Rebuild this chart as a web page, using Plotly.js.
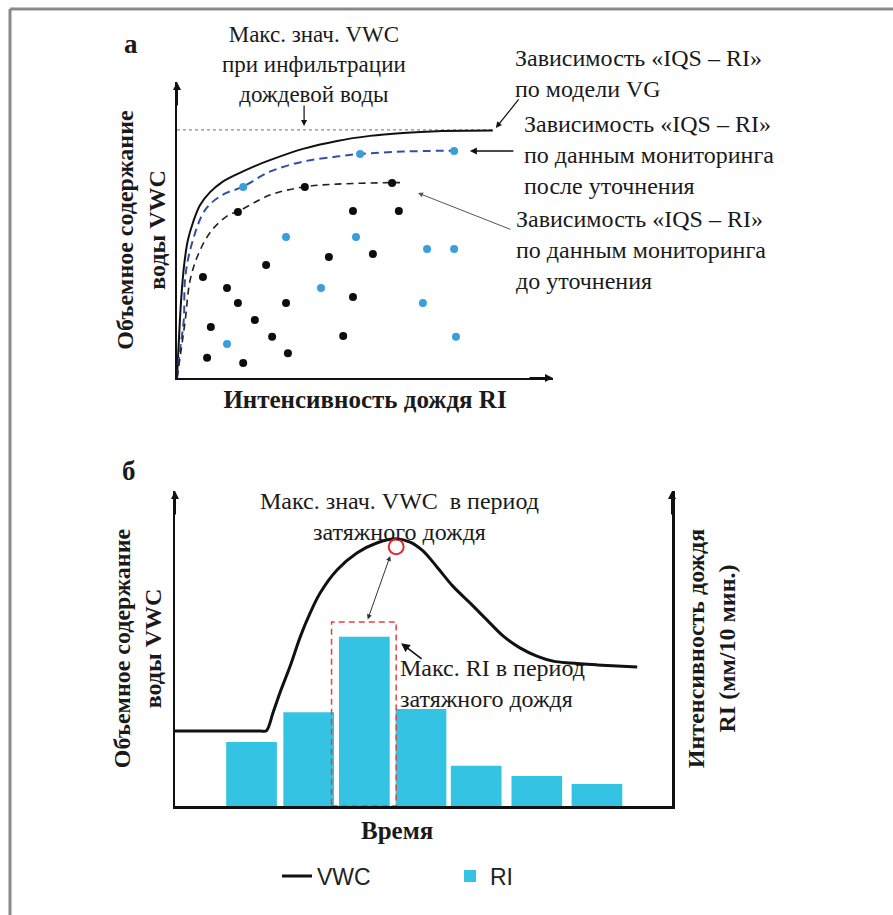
<!DOCTYPE html>
<html><head><meta charset="utf-8">
<script src="https://cdn.plot.ly/plotly-3.0.1.min.js"></script>
<style>html,body{margin:0;padding:0;background:#fff}#chart{width:893px;height:915px}</style>
</head><body><div id="chart"></div>
<script>
// ---------- Panel а : VWC vs rain intensity (schematic units 0..100) ----------
const vgRI   = [0, 0.5, 1.1, 1.9, 2.9, 4.3, 6.1, 8.8, 12.0, 16.0, 20.7, 24.7, 33.5, 42.6, 51.3, 60.1, 69.2, 84.0];
const vgVWC  = [0, 12.8, 26.4, 38.2, 46.6, 52.7, 58.4, 62.8, 66.2, 68.9, 71.6, 73.6, 77.4, 80.1, 81.8, 82.8, 83.4, 83.6];
const afterRI  = [0, 0.8, 1.8, 2.2, 4.0, 7.5, 12.0, 17.5, 24.7, 33.5, 42.5, 48.7, 60.1, 73.7];
const afterVWC = [0, 9.5, 19.6, 34.1, 45.6, 56.8, 61.8, 64.6, 69.7, 73.1, 74.8, 75.7, 76.5, 76.8];
const beforeRI  = [0, 1.1, 2.2, 3.5, 5.8, 9.3, 13.8, 16.4, 24.7, 34.0, 42.5, 57.1, 59.3];
const beforeVWC = [0, 9.5, 19.6, 33.1, 42.2, 50.0, 55.1, 56.4, 61.8, 64.6, 65.5, 66.0, 66.0];
const maxInfilRI  = [0, 84];
const maxInfilVWC = [83.8, 83.8];
const blackRI  = [34.0, 57.2, 16.2, 46.8, 59.0, 40.4, 52.1, 23.7, 6.9, 13.3, 16.2, 29.0, 46.8, 20.7, 9.0, 25.3, 44.2, 8.0, 17.6, 29.5];
const blackVWC = [64.5, 65.9, 56.1, 56.4, 56.4, 40.9, 41.9, 38.2, 34.1, 30.4, 25.3, 25.3, 27.4, 19.6, 17.2, 13.9, 14.2, 6.8, 5.1, 8.4];
const blueRI   = [48.7, 73.7, 17.6, 29.0, 47.6, 66.5, 73.7, 38.3, 65.4, 74.2, 13.3];
const blueVWC  = [75.7, 76.7, 64.5, 47.6, 47.6, 43.6, 43.6, 30.4, 25.3, 13.9, 11.5];

// ---------- Panel б : VWC and RI over time (schematic units 0..100) ----------
const timeVWC = [0, 9.0, 17.2, 18.4, 19.7, 21.1, 23.1, 25.2, 27.2, 29.2, 32.6, 36.6, 40.6, 44.7, 47.3, 49.9, 52.7, 55.9, 59.4, 62.8, 66.0, 69.4, 72.8, 76.1, 79.5, 84.9, 93.0];
const vwcVals = [23.8, 23.8, 23.8, 23.9, 29.5, 35.9, 44.1, 53.7, 61.3, 67.6, 74.9, 80.3, 83.5, 84.8, 83.8, 81.0, 75.9, 69.8, 64.4, 59.0, 54.0, 50.2, 47.6, 46.0, 45.4, 44.8, 44.1];
const timeRI  = [15.4, 26.9, 38.1, 49.5, 60.6, 72.8, 84.9];
const riVals  = [20.3, 29.8, 53.7, 30.8, 12.8, 9.5, 7.0];

// ---------- helpers ----------
const W = 893, H = 915;
const PX = p => p / W;
const PY = p => 1 - p / H;
const SERIF = 'Liberation Serif, Times New Roman, serif';
const TXT = '#1a1a1a';

const iMaxVWC = vwcVals.indexOf(Math.max(...vwcVals));
const iMaxRI  = riVals.indexOf(Math.max(...riVals));

const traces = [
  {x: maxInfilRI, y: maxInfilVWC, xaxis: 'x', yaxis: 'y', mode: 'lines', showlegend: false, hoverinfo: 'skip',
   line: {color: '#8a8a8a', width: 1.2, dash: '3px,3px'}},
  {x: vgRI, y: vgVWC, xaxis: 'x', yaxis: 'y', mode: 'lines', showlegend: false,
   line: {color: '#111', width: 2, shape: 'spline', smoothing: 1}},
  {x: afterRI, y: afterVWC, xaxis: 'x', yaxis: 'y', mode: 'lines', showlegend: false,
   line: {color: '#2f50a6', width: 2, dash: '8px,5px', shape: 'spline', smoothing: 1}},
  {x: beforeRI, y: beforeVWC, xaxis: 'x', yaxis: 'y', mode: 'lines', showlegend: false,
   line: {color: '#222', width: 1.6, dash: '7px,5px', shape: 'spline', smoothing: 1}},
  {x: blackRI, y: blackVWC, xaxis: 'x', yaxis: 'y', mode: 'markers', showlegend: false,
   marker: {color: '#0d0d0d', size: 8}},
  {x: blueRI, y: blueVWC, xaxis: 'x', yaxis: 'y', mode: 'markers', showlegend: false,
   marker: {color: '#3a9edb', size: 8}},
  // panel б
  {x: timeVWC, y: vwcVals, xaxis: 'x2', yaxis: 'y2', mode: 'lines', name: 'VWC',
   line: {color: '#111', width: 3, shape: 'spline', smoothing: 0.9}},
  {x: timeRI, y: riVals, xaxis: 'x2', yaxis: 'y3', type: 'bar', name: 'RI', width: 10.2,
   marker: {color: '#34c3e2', line: {width: 0}}},
  {x: [timeVWC[iMaxVWC] - 0.2], y: [vwcVals[iMaxVWC] - 2.5], xaxis: 'x2', yaxis: 'y2', mode: 'markers', showlegend: false,
   marker: {symbol: 'circle-open', size: 15, color: '#e8262b', line: {width: 2, color: '#e8262b'}}}
];

const axBase = {showgrid: false, zeroline: false, showticklabels: false, ticks: '', showline: true,
  linecolor: '#111', linewidth: 2, fixedrange: true};
const titleFont = {family: SERIF, size: 24, color: TXT, weight: 'bold'};

const annotations = [];
function T(text, x, y, anchor, size, bold) {
  annotations.push({text, x: PX(x), y: PY(y), xref: 'paper', yref: 'paper', showarrow: false,
    xanchor: anchor || 'left', yanchor: 'middle', align: anchor === 'center' ? 'center' : 'left',
    font: {family: SERIF, size: size || 24, color: TXT, weight: bold ? 'bold' : 'normal'}});
}
function A(x, y, xr, yr, ax, ay, opts) {
  annotations.push(Object.assign({text: '', x, y, xref: xr, yref: yr, ax, ay, showarrow: true,
    arrowhead: 2, arrowsize: 1, arrowwidth: 1.2, arrowcolor: '#111'}, opts || {}));
}

// panel labels
T('а', 131, 44, 'center', 27, true);
T('б', 129, 471, 'center', 27, true);
// panel а texts
T('Макс. знач. VWC<br>при инфильтрации<br>дождевой воды', 314, 65, 'center', 23);
T('Зависимость «IQS – RI»<br>по модели VG', 513, 73, 'left');
T('Зависимость «IQS – RI»<br>по данным мониторинга<br>после уточнения', 522, 155, 'left');
T('Зависимость «IQS – RI»<br>по данным мониторинга<br>до уточнения', 514, 250, 'left');
// panel б texts
T('Макс. знач. VWC  в период<br>затяжного дождя', 399, 516, 'center');
T('Макс. RI в период<br>затяжного дождя', 398, 683, 'left');
T('Время', 397, 830, 'center', 25, true);

// axis arrowheads
A(0, 100, 'x', 'y', 0, 25, {arrowwidth: 2, arrowsize: 0.8});
A(100, 0, 'x', 'y', -25, 0, {arrowwidth: 2, arrowsize: 0.8});
A(0, 100, 'x2', 'y2', 0, 25, {arrowwidth: 2, arrowsize: 0.8});
A(100, 100, 'x2', 'y3', 0, 25, {arrowwidth: 2, arrowsize: 0.8});
// panel а pointer arrows
A(33.8, 85.1, 'x', 'y', 0, -22);
A(84.8, 84.5, 'x', 'y', 24, -30);
A(77.9, 76.7, 'x', 'y', 45, 0, {arrowwidth: 1.4});
A(64.1, 62.5, 'x', 'y', 94, 37, {arrowcolor: '#555', arrowwidth: 1});
// panel б pointer arrows
A(timeVWC[iMaxVWC] - 1.4, vwcVals[iMaxVWC] - 5.4, 'x2', 'y2', -23, 65, {arrowside: 'end+start', arrowwidth: 1, arrowcolor: '#333'});
A(timeRI[iMaxRI] + 7.4, riVals[iMaxRI] - 2, 'x2', 'y3', 22, 17, {arrowwidth: 1.6, arrowsize: 1.1});

const shapes = [
  // page frame (top and left)
  {type: 'line', xref: 'paper', yref: 'paper', x0: PX(10), x1: 1, y0: PY(9), y1: PY(9), line: {color: '#8a8a8a', width: 3}},
  {type: 'line', xref: 'paper', yref: 'paper', x0: PX(10), x1: PX(10), y0: PY(9), y1: 0, line: {color: '#8a8a8a', width: 3}},
  // dashed box around the max-RI bar
  {type: 'rect', xref: 'x2', yref: 'y3', x0: timeRI[iMaxRI] - 6.6, x1: timeRI[iMaxRI] + 6.4, y0: 0, y1: riVals[iMaxRI] + 4.7,
   line: {color: '#e8403f', width: 1.5, dash: '6px,4px'}, layer: 'above'}
];

const layout = {
  width: W, height: H, margin: {l: 0, r: 0, t: 0, b: 0},
  paper_bgcolor: '#fff', plot_bgcolor: 'rgba(0,0,0,0)',
  xaxis: Object.assign({}, axBase, {domain: [PX(177), PX(553)], range: [0, 100], anchor: 'y',
    title: {text: 'Интенсивность дождя RI', font: Object.assign({}, titleFont, {size: 25}), standoff: 11}}),
  yaxis: Object.assign({}, axBase, {domain: [PY(378), PY(82)], range: [0, 100], anchor: 'x',
    title: {text: 'Объемное содержание<br>воды VWC', font: titleFont, standoff: 3}}),
  xaxis2: Object.assign({}, axBase, {domain: [PX(175), PX(672)], range: [0, 100], anchor: 'y2', linewidth: 2.5}),
  yaxis2: Object.assign({}, axBase, {domain: [PY(806), PY(491)], range: [0, 100], anchor: 'x2', linewidth: 2.5,
    title: {text: 'Объемное содержание<br>воды VWC', font: titleFont, standoff: 4}}),
  yaxis3: Object.assign({}, axBase, {overlaying: 'y2', side: 'right', range: [0, 100], anchor: 'x2', linewidth: 2.5,
    title: {text: 'Интенсивность дождя<br>RI (мм/10 мин.)', font: titleFont, standoff: 14}}),
  showlegend: true,
  legend: {orientation: 'h', x: PX(277), xanchor: 'left', y: PY(876), yanchor: 'middle',
    font: {family: 'Liberation Sans, Arial, sans-serif', size: 23, color: '#222'},
    entrywidth: 128, bgcolor: 'rgba(0,0,0,0)', traceorder: 'normal'},
  annotations, shapes
};

Plotly.newPlot('chart', traces, layout, {staticPlot: true, displayModeBar: false});
</script>
</body></html>
